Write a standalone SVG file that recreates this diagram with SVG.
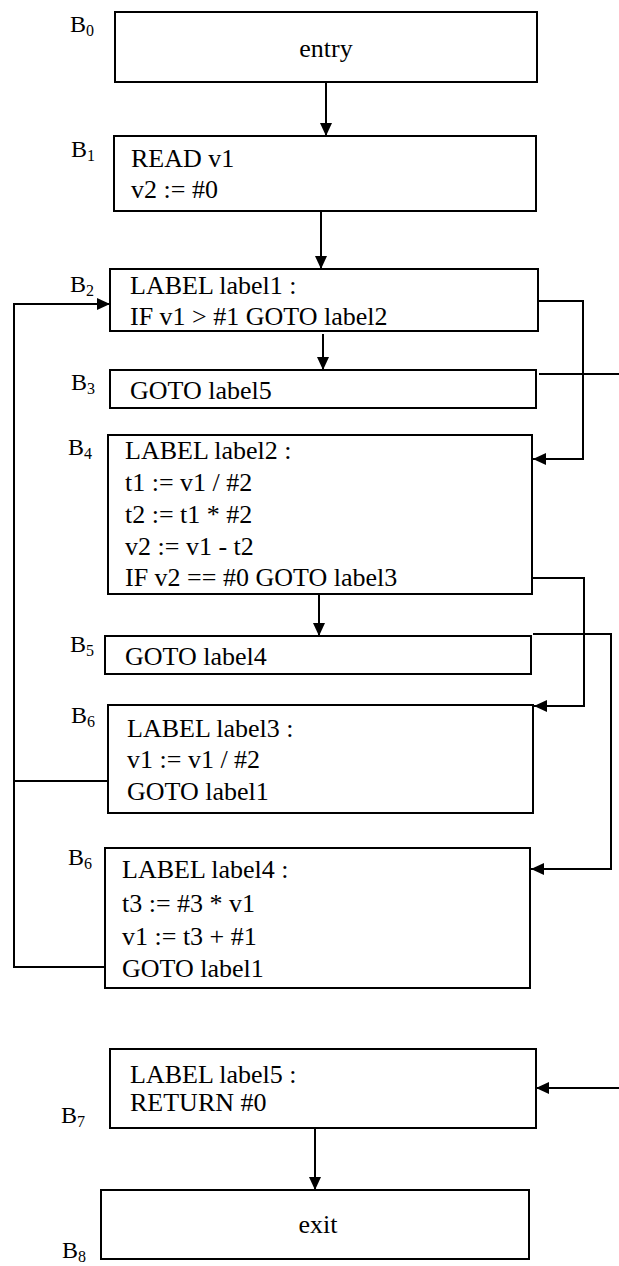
<svg xmlns="http://www.w3.org/2000/svg" width="619" height="1266" viewBox="0 0 619 1266">
  <style>
    .box { fill: #ffffff; stroke: #000000; stroke-width: 2; }
    .code { font-family: "Liberation Serif", "Times New Roman", serif; font-size: 26px; fill: #000000; }
    .mid { text-anchor: middle; }
    .blk { font-family: "Liberation Serif", "Times New Roman", serif; font-size: 24px; fill: #000000; }
    .sub { font-size: 16px; }
    .edge { fill: none; stroke: #000000; stroke-width: 2; }
  </style>
  <defs>
    <marker id="arrow" markerUnits="userSpaceOnUse" markerWidth="13" markerHeight="12" refX="13" refY="6" orient="auto">
      <path d="M0,0 L13,6 L0,12 z" fill="#000000"/>
    </marker>
  </defs>
  <rect width="619" height="1266" fill="#ffffff"/>

  <!-- connectors -->
  <g id="connectors">
    <line class="edge" x1="326" y1="82" x2="326" y2="136" marker-end="url(#arrow)"/>
    <line class="edge" x1="321" y1="211" x2="321" y2="269" marker-end="url(#arrow)"/>
    <line class="edge" x1="323" y1="334" x2="323" y2="370" marker-end="url(#arrow)"/>
    <line class="edge" x1="319" y1="595" x2="319" y2="636" marker-end="url(#arrow)"/>
    <line class="edge" x1="315" y1="1129" x2="315" y2="1190" marker-end="url(#arrow)"/>
    <!-- back edges to label1 -->
    <polyline class="edge" points="105,967 14,967 14,304 110,304" marker-end="url(#arrow)"/>
    <line class="edge" x1="108" y1="781" x2="14" y2="781"/>
    <!-- B2 -> B4 -->
    <polyline class="edge" points="538,301 583,301 583,459 533,459" marker-end="url(#arrow)"/>
    <!-- B3 -> B7 (routed off the right edge) -->
    <line class="edge" x1="539" y1="374" x2="619" y2="374"/>
    <line class="edge" x1="619" y1="1088" x2="536" y2="1088" marker-end="url(#arrow)"/>
    <!-- B4 -> B6 -->
    <polyline class="edge" points="532,578 584,578 584,706 534,706" marker-end="url(#arrow)"/>
    <!-- B5 -> label4 block -->
    <polyline class="edge" points="533,634 611,634 611,869 531,869" marker-end="url(#arrow)"/>
  </g>

  <g id="B0">
    <rect class="box" x="115" y="12" width="422" height="70"/>
    <text class="code mid" x="326" y="57">entry</text>
    <text class="blk" x="70" y="32">B<tspan class="sub" dy="4">0</tspan></text>
  </g>

  <g id="B1">
    <rect class="box" x="114" y="136" width="422" height="75"/>
    <text class="code" x="131" y="167">READ v1</text>
    <text class="code" x="131" y="198">v2 := #0</text>
    <text class="blk" x="71" y="157">B<tspan class="sub" dy="4">1</tspan></text>
  </g>

  <g id="B2">
    <rect class="box" x="110" y="269" width="428" height="62"/>
    <text class="code" x="130" y="294">LABEL label1 :</text>
    <text class="code" x="130" y="325">IF v1 &gt; #1 GOTO label2</text>
    <text class="blk" x="70" y="292">B<tspan class="sub" dy="4">2</tspan></text>
  </g>

  <g id="B3">
    <rect class="box" x="110" y="370" width="426" height="38"/>
    <text class="code" x="130" y="399">GOTO label5</text>
    <text class="blk" x="71" y="390">B<tspan class="sub" dy="4">3</tspan></text>
  </g>

  <g id="B4">
    <rect class="box" x="108" y="435" width="424" height="159"/>
    <text class="code" x="125" y="459">LABEL label2 :</text>
    <text class="code" x="125" y="491">t1 := v1 / #2</text>
    <text class="code" x="125" y="523">t2 := t1 * #2</text>
    <text class="code" x="125" y="555">v2 := v1 - t2</text>
    <text class="code" x="125" y="586">IF v2 == #0 GOTO label3</text>
    <text class="blk" x="68" y="455">B<tspan class="sub" dy="4">4</tspan></text>
  </g>

  <g id="B5">
    <rect class="box" x="105" y="636" width="426" height="38"/>
    <text class="code" x="125" y="665">GOTO label4</text>
    <text class="blk" x="70" y="652">B<tspan class="sub" dy="4">5</tspan></text>
  </g>

  <g id="B6">
    <rect class="box" x="108" y="705" width="425" height="108"/>
    <text class="code" x="127" y="737">LABEL label3 :</text>
    <text class="code" x="127" y="768">v1 := v1 / #2</text>
    <text class="code" x="127" y="800">GOTO label1</text>
    <text class="blk" x="71" y="723">B<tspan class="sub" dy="4">6</tspan></text>
  </g>

  <g id="B6-label4">
    <rect class="box" x="105" y="848" width="425" height="140"/>
    <text class="code" x="122" y="878">LABEL label4 :</text>
    <text class="code" x="122" y="912">t3 := #3 * v1</text>
    <text class="code" x="122" y="945">v1 := t3 + #1</text>
    <text class="code" x="122" y="977">GOTO label1</text>
    <text class="blk" x="68" y="865">B<tspan class="sub" dy="4">6</tspan></text>
  </g>

  <g id="B7">
    <rect class="box" x="110" y="1049" width="426" height="79"/>
    <text class="code" x="130" y="1083">LABEL label5 :</text>
    <text class="code" x="130" y="1111">RETURN #0</text>
    <text class="blk" x="61" y="1123">B<tspan class="sub" dy="4">7</tspan></text>
  </g>

  <g id="B8">
    <rect class="box" x="101" y="1190" width="428" height="69"/>
    <text class="code mid" x="318" y="1233">exit</text>
    <text class="blk" x="62" y="1258">B<tspan class="sub" dy="4">8</tspan></text>
  </g>
</svg>
